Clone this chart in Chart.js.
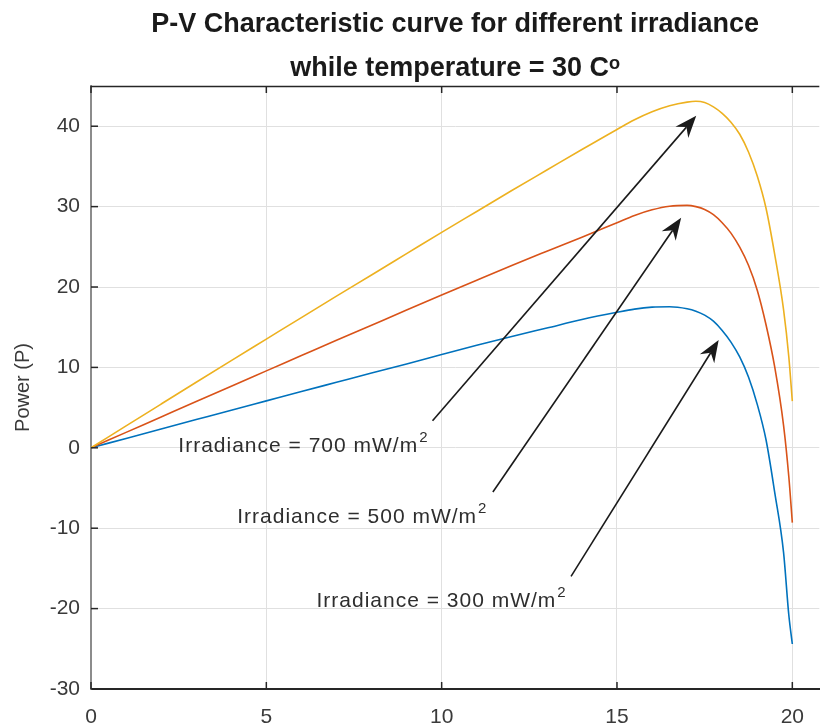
<!DOCTYPE html>
<html><head><meta charset="utf-8">
<script src="https://cdn.jsdelivr.net/npm/chart.js@4/dist/chart.umd.min.js"></script>
<style>html,body{margin:0;padding:0;background:#fff;overflow:hidden}#wrap{width:820px;height:726px;position:relative}</style>
</head><body><div id="wrap"><canvas id="c" width="820" height="726"></canvas></div>
<script>
// ---- data ----
const voltage   = [0,1,2,3,4,5,6,7,8,9,10,11,12,13,14,15,15.5,16,16.5,17,17.25,17.5,17.75,18,18.25,18.5,18.75,19,19.25,19.5,19.75,19.9,20];
const power300  = [0,1.17,2.34,3.51,4.68,5.84,7.0,8.15,9.3,10.43,11.6,12.75,13.85,14.9,15.95,16.85,17.25,17.5,17.55,17.3,17.0,16.5,15.75,14.6,13.15,11.3,8.8,5.4,1.0,-5.6,-13.0,-20.8,-24.4];
const power500  = [0,1.92,3.84,5.76,7.67,9.57,11.47,13.37,15.25,17.13,19.0,20.85,22.68,24.45,26.2,28.0,28.9,29.6,30.05,30.15,30.0,29.65,29.0,28.0,26.7,24.95,22.7,19.6,15.3,10.0,2.8,-3.6,-9.3];
const power700  = [0,2.72,5.44,8.15,10.84,13.52,16.2,18.86,21.5,24.15,26.8,29.4,32.0,34.55,37.1,39.6,40.8,41.8,42.55,43.0,43.1,42.95,42.4,41.6,40.5,39.0,36.8,33.8,29.8,24.0,17.2,11.3,5.8];
const seriesNames = ['Irradiance = 300 mW/m²','Irradiance = 500 mW/m²','Irradiance = 700 mW/m²'];
const xTickValues = [0,5,10,15,20];
const yTickValues = [-30,-20,-10,0,10,20,30,40];
const titleLines = ['P-V Characteristic curve for different irradiance','while temperature = 30 Cᵒ'];
const yAxisTitle = 'Power (P)';
const annotationTexts = ['Irradiance = 700 mW/m','Irradiance = 500 mW/m','Irradiance = 300 mW/m'];
const annotationSup = '2';

// ---- annotation placement (data coordinates) ----
const annotationLayout = [
  {tx:2.49, ty:-0.56, ax1:9.74, ay1:3.36, ax2:17.26, ay2:41.3},
  {tx:4.17, ty:-9.32, ax1:11.46, ay1:-5.5, ax2:16.83, ay2:28.6},
  {tx:6.43, ty:-19.77, ax1:13.69, ay1:-16.0, ax2:17.9, ay2:13.4}
];

const FONT = '"Liberation Sans", Arial, Helvetica, sans-serif';
const colors = ['#0072BD','#D95319','#EDB120'];
const seriesValues = [power300, power500, power700];

function toPoints(vals){ return voltage.map((v,i)=>({x:v,y:vals[i]})); }

function drawArrow(ctx,x1,y1,x2,y2){
  const a=Math.atan2(y2-y1,x2-x1), c=Math.cos(a), s=Math.sin(a);
  const L=22, W=8.5, N=15;
  ctx.beginPath(); ctx.moveTo(x1,y1); ctx.lineTo(x2-c*N,y2-s*N); ctx.stroke();
  const bx=x2-c*L, by=y2-s*L;
  ctx.beginPath(); ctx.moveTo(x2,y2);
  ctx.lineTo(bx+s*W, by-c*W);
  ctx.lineTo(x2-c*N, y2-s*N);
  ctx.lineTo(bx-s*W, by+c*W);
  ctx.closePath(); ctx.fill();
}

const framePlugin = {
  id:'frame',
  afterLayout(chart){
    const t = chart.titleBlock, ca = chart.chartArea;
    if (t){ t.left = ca.left; t.right = ca.right; t.width = ca.right-ca.left; }
  },
  afterDatasetsDraw(chart){
    const ctx=chart.ctx, xs=chart.scales.x, ys=chart.scales.y;
    ctx.save();
    ctx.strokeStyle='#1a1a1a'; ctx.fillStyle='#1a1a1a'; ctx.lineWidth=1.6;
    annotationLayout.forEach((a,i)=>{
      drawArrow(ctx, xs.getPixelForValue(a.ax1), ys.getPixelForValue(a.ay1), xs.getPixelForValue(a.ax2), ys.getPixelForValue(a.ay2));
      const px=xs.getPixelForValue(a.tx), py=ys.getPixelForValue(a.ty);
      ctx.font='21px '+FONT; ctx.textBaseline='alphabetic'; ctx.textAlign='left';
      if ('letterSpacing' in ctx) ctx.letterSpacing='1px';
      ctx.fillStyle='#2e2e2e';
      ctx.fillText(annotationTexts[i], px, py);
      const w=ctx.measureText(annotationTexts[i]).width;
      ctx.font='15px '+FONT;
      ctx.fillText(annotationSup, px+w+1, py-10);
      if ('letterSpacing' in ctx) ctx.letterSpacing='0px';
      ctx.fillStyle='#1a1a1a';
    });
    ctx.restore();
  },
  afterDraw(chart){
    const ctx=chart.ctx, ca=chart.chartArea, xs=chart.scales.x, ys=chart.scales.y;
    ctx.save();
    ctx.strokeStyle='#262626'; ctx.lineWidth=1.5;
    ctx.beginPath(); ctx.moveTo(ca.left, ca.top+0.5); ctx.lineTo(ca.right, ca.top+0.5); ctx.stroke();
    xTickValues.forEach(v=>{
      const x=xs.getPixelForValue(v);
      ctx.beginPath(); ctx.moveTo(x, ca.bottom); ctx.lineTo(x, ca.bottom-7); ctx.stroke();
      ctx.beginPath(); ctx.moveTo(x, ca.top); ctx.lineTo(x, ca.top+7); ctx.stroke();
    });
    yTickValues.forEach(v=>{
      const y=ys.getPixelForValue(v);
      ctx.beginPath(); ctx.moveTo(ca.left, y); ctx.lineTo(ca.left+7, y); ctx.stroke();
    });
    ctx.restore();
  }
};

new Chart(document.getElementById('c'), {
  type:'scatter',
  data:{
    datasets: seriesValues.map((vals,i)=>({
      label: seriesNames[i],
      data: toPoints(vals),
      showLine:true,
      borderColor: colors[i],
      backgroundColor: colors[i],
      borderWidth:1.6,
      pointRadius:0,
      cubicInterpolationMode:'monotone',
      order: 3-i
    }))
  },
  options:{
    responsive:false,
    animation:false,
    layout:{padding:0},
    plugins:{
      legend:{display:false},
      tooltip:{enabled:false},
      title:{
        display:true, text:titleLines, color:'#1a1a1a',
        font:{family:FONT, size:27, weight:'bold', lineHeight:1.63},
        padding:{top:3,bottom:-5}
      }
    },
    scales:{
      x:{
        type:'linear', min:0, max:20.77,
        afterBuildTicks(s){ s.ticks = xTickValues.map(v=>({value:v})); },
        afterFit(s){ s.height = 37; },
        grid:{color:'#e0e0e0', lineWidth:1, drawTicks:false},
        border:{color:'#262626', width:2},
        ticks:{color:'#3a3a3a', font:{family:FONT, size:21}, padding:16, maxRotation:0, autoSkip:false}
      },
      y:{
        type:'linear', min:-30, max:45,
        afterBuildTicks(s){ s.ticks = yTickValues.map(v=>({value:v})); },
        afterFit(s){ s.width = 91; },
        grid:{color:'#e0e0e0', lineWidth:1, drawTicks:false},
        border:{color:'#8c8c8c', width:2},
        ticks:{color:'#3a3a3a', font:{family:FONT, size:21}, padding:11, autoSkip:false},
        title:{display:true, text:yAxisTitle, color:'#3a3a3a', font:{family:FONT, size:20}, padding:{top:11,bottom:0}}
      }
    }
  },
  plugins:[framePlugin]
});
</script>
</body></html>
